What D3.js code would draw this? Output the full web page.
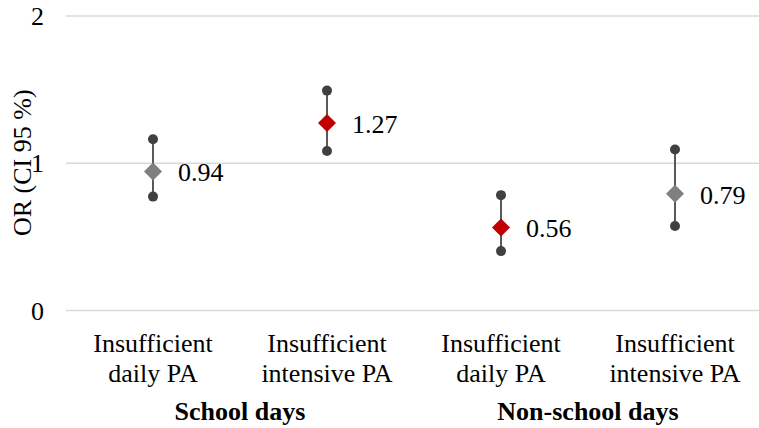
<!DOCTYPE html>
<html>
<head>
<meta charset="utf-8">
<script src="https://cdn.jsdelivr.net/npm/d3@7"></script>
<style>
  html, body { margin: 0; padding: 0; background: #fff; }
  svg { display: block; }
</style>
</head>
<body>
<svg id="chart" width="759" height="428"></svg>
<script>
// ---- data ----
const categoryLine1 = ["Insufficient", "Insufficient", "Insufficient", "Insufficient"];
const categoryLine2 = ["daily PA", "intensive PA", "daily PA", "intensive PA"];
const groupLabels = ["School days", "Non-school days"];
const groupOf = [0, 0, 1, 1];
const orValues = [0.94, 1.27, 0.56, 0.79];
const ciLower = [0.77, 1.08, 0.40, 0.57];
const ciUpper = [1.16, 1.49, 0.78, 1.09];
const significant = [false, true, true, false];
const yTicks = [0, 1, 2];
const yTitle = "OR (CI 95 %)";

// ---- layout ----
const FONT = "'Liberation Serif', 'Times New Roman', Tinos, serif";
const svg = d3.select("#chart").style("font-family", FONT);
const plotLeft = 66, plotRight = 762, plotTop = 15.5, plotBottom = 310;
const fs = 26;

const idx = orValues.map((d, i) => i);
const x = d3.scaleBand().domain(idx).range([plotLeft, plotRight]).padding(0);
const y = d3.scaleLinear().domain([0, 2]).range([plotBottom, plotTop]);

// gridlines + tick labels
const yAxis = d3.axisLeft(y).tickValues(yTicks).tickFormat(d3.format("d"))
  .tickSizeInner(-(plotRight - plotLeft)).tickSizeOuter(0).tickPadding(22);
const gy = svg.append("g").attr("transform", `translate(${plotLeft},0)`).call(yAxis);
gy.select(".domain").remove();
gy.selectAll(".tick line").attr("stroke", "#d9d9d9").attr("stroke-width", 1.4);
gy.selectAll(".tick text").attr("fill", "#000").attr("dy", "0.35em")
  .style("font-family", FONT).style("font-size", fs + "px");

// y title
svg.append("text")
  .attr("transform", `translate(31,${(plotTop + plotBottom) / 2}) rotate(-90)`)
  .attr("text-anchor", "middle")
  .style("font-family", FONT).style("font-size", fs + "px")
  .text(yTitle);

// category labels
const cx = i => x(i) + x.bandwidth() / 2;
const gx = svg.append("g");
idx.forEach(i => {
  const t = gx.append("text").attr("text-anchor", "middle")
    .style("font-family", FONT).style("font-size", fs + "px");
  t.append("tspan").attr("x", cx(i)).attr("y", 351.5).text(categoryLine1[i]);
  t.append("tspan").attr("x", cx(i)).attr("y", 381.5).text(categoryLine2[i]);
});

// group labels
groupLabels.forEach((g, gi) => {
  const members = idx.filter(i => groupOf[i] === gi);
  const c = d3.mean(members, cx);
  svg.append("text").attr("x", c).attr("y", 420)
    .attr("text-anchor", "middle")
    .style("font-family", FONT).style("font-size", fs + "px").style("font-weight", "bold")
    .text(g);
});

// error bars
const marks = svg.append("g");
marks.selectAll("line.ci").data(idx).join("line")
  .attr("class", "ci")
  .attr("x1", cx).attr("x2", cx)
  .attr("y1", i => y(ciLower[i])).attr("y2", i => y(ciUpper[i]))
  .attr("stroke", "#595959").attr("stroke-width", 2);

marks.selectAll("circle.lo").data(idx).join("circle")
  .attr("class", "lo").attr("cx", cx).attr("cy", i => y(ciLower[i])).attr("r", 5)
  .attr("fill", "#404040");
marks.selectAll("circle.hi").data(idx).join("circle")
  .attr("class", "hi").attr("cx", cx).attr("cy", i => y(ciUpper[i])).attr("r", 5)
  .attr("fill", "#404040");

const diamond = d3.symbol().type(d3.symbolSquare).size(162);
marks.selectAll("path.or").data(idx).join("path")
  .attr("class", "or")
  .attr("d", diamond)
  .attr("transform", i => `translate(${cx(i)},${y(orValues[i])}) rotate(45)`)
  .attr("fill", i => significant[i] ? "#c00000" : "#7f7f7f");

marks.selectAll("text.val").data(idx).join("text")
  .attr("class", "val")
  .attr("x", i => cx(i) + 25)
  .attr("y", i => y(orValues[i]))
  .attr("dy", "0.38em")
  .style("font-family", FONT).style("font-size", fs + "px")
  .text(i => orValues[i].toFixed(2));
</script>
</body>
</html>
